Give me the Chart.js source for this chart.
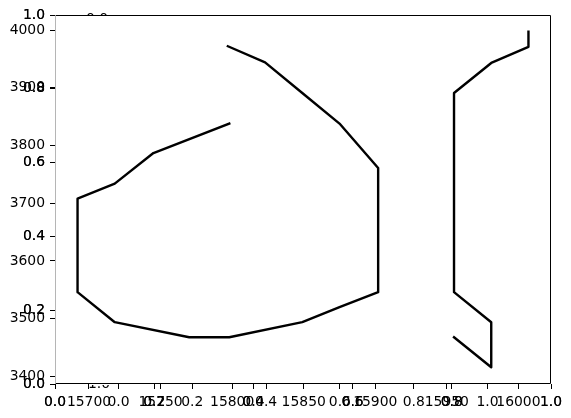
<!DOCTYPE html>
<html>
<head>
<meta charset="utf-8">
<script src="https://cdn.jsdelivr.net/npm/chart.js@4/dist/chart.umd.min.js"></script>
<style>
  html, body { margin: 0; padding: 0; background: #fff; }
</style>
</head>
<body>
<canvas id="chart" width="571" height="418"></canvas>

<script>
    // Lazo de la izquierda (en orden de trazado)
    const loopX = [15798, 15745, 15718, 15692, 15692, 15718, 15770, 15798, 15849, 15875, 15902, 15902, 15875, 15849, 15823, 15797];
    const loopY = [3838, 3787, 3734, 3708, 3546, 3494, 3468, 3468, 3494, 3520, 3546, 3761, 3838, 3891, 3944, 3972];
    // Gancho de la derecha
    const hookX = [15955, 15981, 15981, 15955, 15955, 15981, 16007, 16007];
    const hookY = [3468, 3416, 3494, 3546, 3891, 3943, 3971, 3997];

    // Ticks
    const xTicks = [15700, 15750, 15800, 15850, 15900, 15950, 16000];
    const yTicks = [3400, 3500, 3600, 3700, 3800, 3900, 4000];
    const unitTicks = [0, 0.2, 0.4, 0.6, 0.8, 1.0];

    const font = { family: 'DejaVu Sans', size: 13.9 };
    Chart.defaults.color = '#000';

    // margen del 5% como matplotlib
    function padded(values) {
        const lo = Math.min(...values), hi = Math.max(...values);
        const m = (hi - lo) * 0.05;
        return [lo - m, hi + m];
    }
    const [xMin, xMax] = padded(loopX.concat(hookX));
    const [yMin, yMax] = padded(loopY.concat(hookY));

    function axis(position, min, max, values, fmt, size) {
        const horizontal = position === 'bottom';
        return {
            type: 'linear',
            position: position,
            min: min,
            max: max,
            afterBuildTicks: s => { s.ticks = values.map(v => ({ value: v })); },
            afterFit: s => { if (horizontal) s.height = size; else s.width = size; },
            ticks: { callback: fmt, autoSkip: false, maxRotation: 0, minRotation: 0, padding: 5, color: '#000', font: font },
            grid: { drawOnChartArea: false, drawTicks: true, tickLength: 5, tickColor: '#000', tickWidth: 1 },
            border: { display: false }
        };
    }
    const plain = v => String(v);
    const unit = v => v.toFixed(1);

    // Los ejes extra se superponen al principal
    const overlayAxes = {
        id: 'overlayAxes',
        afterLayout(chart) {
            const a = chart.chartArea;
            ['x', 'xa', 'xb', 'xc'].forEach(id => {
                const s = chart.scales[id];
                s.top = a.bottom; s.bottom = a.bottom + 34; s.height = 34;
            });
            ['y', 'ya', 'yc'].forEach(id => {
                const s = chart.scales[id];
                s.left = 0; s.right = a.left; s.width = a.left;
            });
        }
    };

    // Marco y etiquetas tapadas
    const frame = {
        id: 'frame',
        afterDraw(chart) {
            const { ctx, chartArea: a } = chart;
            const l = Math.round(a.left) + 0.5, r = Math.round(a.right) - 0.5;
            const t = Math.round(a.top) + 0.5, b = Math.round(a.bottom) - 0.5;
            ctx.save();
            ctx.lineWidth = 1;
            ctx.strokeStyle = '#000';
            ctx.beginPath();
            ctx.moveTo(l, t); ctx.lineTo(r, t); ctx.lineTo(r, b); ctx.lineTo(l, b);
            ctx.stroke();
            ctx.strokeStyle = '#b5b5b5';
            ctx.beginPath();
            ctx.moveTo(l, t); ctx.lineTo(l, b);
            ctx.stroke();

            ctx.font = '13.9px "DejaVu Sans"';
            ctx.fillStyle = '#000';
            ctx.textAlign = 'center';
            ctx.textBaseline = 'alphabetic';
            ctx.save();
            ctx.beginPath(); ctx.rect(0, 0, chart.width, a.top); ctx.clip();
            ctx.fillText('0.0', 97, a.top + 8);
            ctx.restore();
            ctx.save();
            ctx.beginPath(); ctx.rect(0, a.bottom + 1, chart.width, 6); ctx.clip();
            ctx.fillText('1.0', 99, a.bottom + 4);
            ctx.restore();
            ctx.restore();
        }
    };

    const ctx = document.getElementById('chart').getContext('2d');
    new Chart(ctx, {
        type: 'scatter',
        data: {
            datasets: [
                {
                    data: loopX.map((x, i) => ({ x: x, y: loopY[i] })),
                    showLine: true,
                    borderColor: '#000',
                    borderWidth: 2.4,
                    borderJoinStyle: 'round',
                    borderCapStyle: 'square',
                    pointRadius: 0,
                    xAxisID: 'x',
                    yAxisID: 'y'
                },
                {
                    data: hookX.map((x, i) => ({ x: x, y: hookY[i] })),
                    showLine: true,
                    borderColor: '#000',
                    borderWidth: 2.4,
                    borderJoinStyle: 'round',
                    borderCapStyle: 'square',
                    pointRadius: 0,
                    xAxisID: 'x',
                    yAxisID: 'y'
                }
            ]
        },
        options: {
            responsive: false,
            animation: false,
            devicePixelRatio: 1,
            layout: { padding: { top: 15, right: 20, left: 0, bottom: 0 } },
            plugins: { legend: { display: false }, tooltip: { enabled: false } },
            scales: {
                x: axis('bottom', xMin, xMax, xTicks, plain, 34),
                xa: axis('bottom', 0, 1, unitTicks, unit, 0),
                xc: axis('bottom', 0, 1, unitTicks, unit, 0),
                xb: axis('bottom', -0.172, 1.172, unitTicks, unit, 0),
                y: axis('left', yMin, yMax, yTicks, plain, 55),
                ya: axis('left', 0, 1, unitTicks, unit, 0),
                yc: axis('left', 0, 1, unitTicks, unit, 0)
            }
        },
        plugins: [overlayAxes, frame]
    });
</script>
</body>
</html>
